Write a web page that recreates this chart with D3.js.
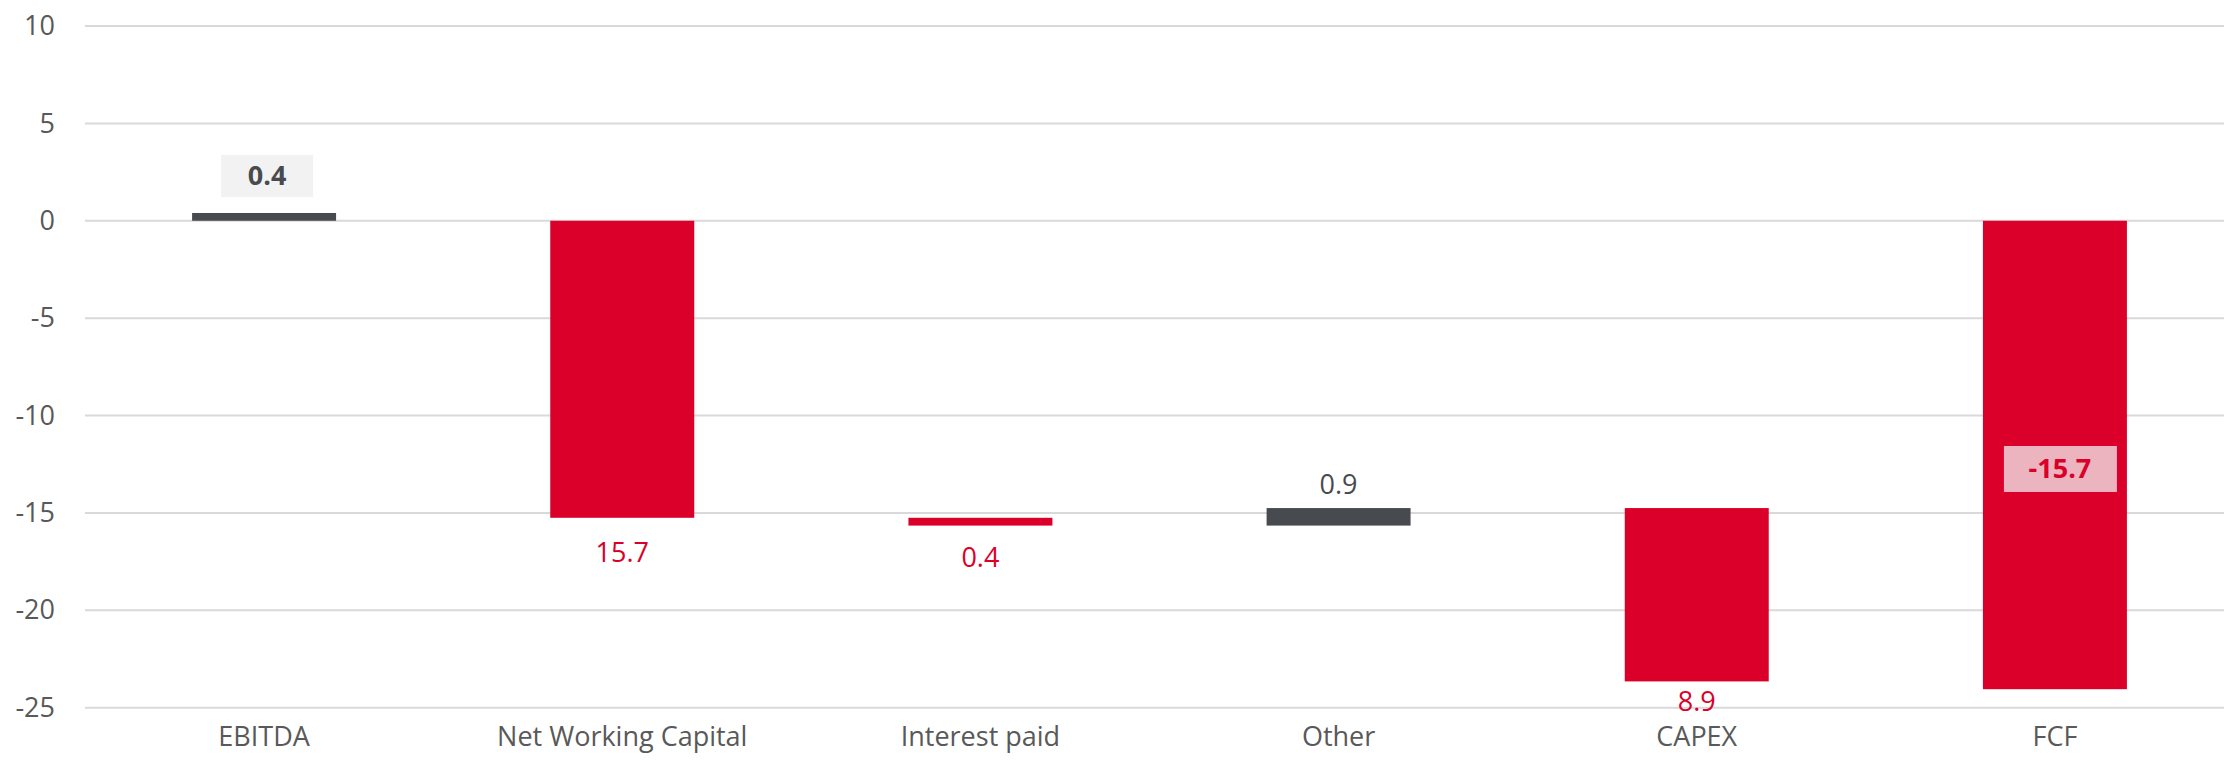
<!DOCTYPE html>
<html><head><meta charset="utf-8">
<script src="https://cdn.jsdelivr.net/npm/d3@7/dist/d3.min.js"></script>
<style>
html,body{margin:0;padding:0;background:#fff;}
svg{display:block;font-family:"Open Sans",sans-serif;}
</style></head><body>
<svg id="chart" width="2224" height="765"></svg>
<script>
// ---- data ----
const categories = ["EBITDA", "Net Working Capital", "Interest paid", "Other", "CAPEX", "FCF"];
const barStart   = [0,     0,      -15.25, -15.65, -14.75, 0];
const barEnd     = [0.4,  -15.25,  -15.65, -14.75, -23.65, -24.05];
const barLabels  = ["0.4", "15.7", "0.4", "0.9", "8.9", "-15.7"];
const barKind    = ["up", "down", "down", "up", "down", "total"];
const yTicks     = [10, 5, 0, -5, -10, -15, -20, -25];

// ---- layout ----
const W = 2224, H = 765;
const svg = d3.select("#chart");
const RED = "#DA0029", GREY = "#474B4F", TXT = "#595959";

const x = d3.scaleBand().domain(categories).range([85, 2234]).paddingInner(0.598).paddingOuter(0.299);
const y = d3.scaleLinear().domain([-25, 10]).range([707.7, 26]);

// gridlines
svg.append("g").selectAll("line").data(yTicks).join("line")
  .attr("x1", 85).attr("x2", W)
  .attr("y1", d => y(d)).attr("y2", d => y(d))
  .attr("stroke", "#D9D9D9").attr("stroke-width", 2);

// y axis labels
const yAxis = d3.axisLeft(y).tickValues(yTicks).tickSize(0).tickPadding(0).tickFormat(d => String(d));
const ya = svg.append("g").attr("transform", "translate(55,0)").call(yAxis);
ya.select(".domain").remove();
ya.selectAll("text").attr("font-size", 27).attr("fill", TXT).attr("font-family", "Open Sans");

// x axis labels
const xAxis = d3.axisBottom(x).tickSize(0).tickPadding(0);
const xa = svg.append("g").attr("transform", "translate(0,727)").call(xAxis);
xa.select(".domain").remove();
xa.selectAll("text").attr("font-size", 27).attr("fill", TXT).attr("font-family", "Open Sans").attr("dy", "0.7em");

// bars
const idx = d3.range(categories.length);
svg.append("g").selectAll("rect").data(idx).join("rect")
  .attr("x", i => x(categories[i]))
  .attr("width", x.bandwidth())
  .attr("y", i => y(Math.max(barStart[i], barEnd[i])))
  .attr("height", i => Math.abs(y(barStart[i]) - y(barEnd[i])))
  .attr("fill", i => barKind[i] === "up" ? GREY : RED);

// labels
const lg = svg.append("g");
idx.forEach(i => {
  const cx = x(categories[i]) + x.bandwidth() / 2;
  const top = y(Math.max(barStart[i], barEnd[i]));
  const bot = y(Math.min(barStart[i], barEnd[i]));
  const col = barKind[i] === "up" ? GREY : RED;
  if (i === 0) {
    const cy = top - 37;
    lg.append("rect").attr("x", cx - 43).attr("y", cy - 21).attr("width", 92).attr("height", 42).attr("fill", "#F2F2F2");
    lg.append("text").attr("x", cx + 3).attr("y", cy).attr("dy", "0.35em").attr("text-anchor", "middle")
      .attr("font-size", 27).attr("font-weight", "bold").attr("fill", col).text(barLabels[i]);
  } else if (barKind[i] === "total") {
    const cy = (top + bot) / 2 + 14;
    lg.append("rect").attr("x", cx - 51).attr("y", cy - 23).attr("width", 113).attr("height", 46).attr("fill", "#EBB4BF");
    lg.append("text").attr("x", cx + 5).attr("y", cy).attr("dy", "0.35em").attr("text-anchor", "middle")
      .attr("font-size", 27).attr("font-weight", "bold").attr("fill", col).text(barLabels[i]);
  } else if (barKind[i] === "up") {
    lg.append("text").attr("x", cx).attr("y", top - 24).attr("dy", "0.35em").attr("text-anchor", "middle")
      .attr("font-size", 27).attr("fill", col).text(barLabels[i]);
  } else {
    const off = i === 4 ? 20 : (i === 2 ? 32 : 35);
    lg.append("text").attr("x", cx).attr("y", bot + off).attr("dy", "0.35em").attr("text-anchor", "middle")
      .attr("font-size", 27).attr("fill", col).text(barLabels[i]);
  }
});
</script>
</body></html>
